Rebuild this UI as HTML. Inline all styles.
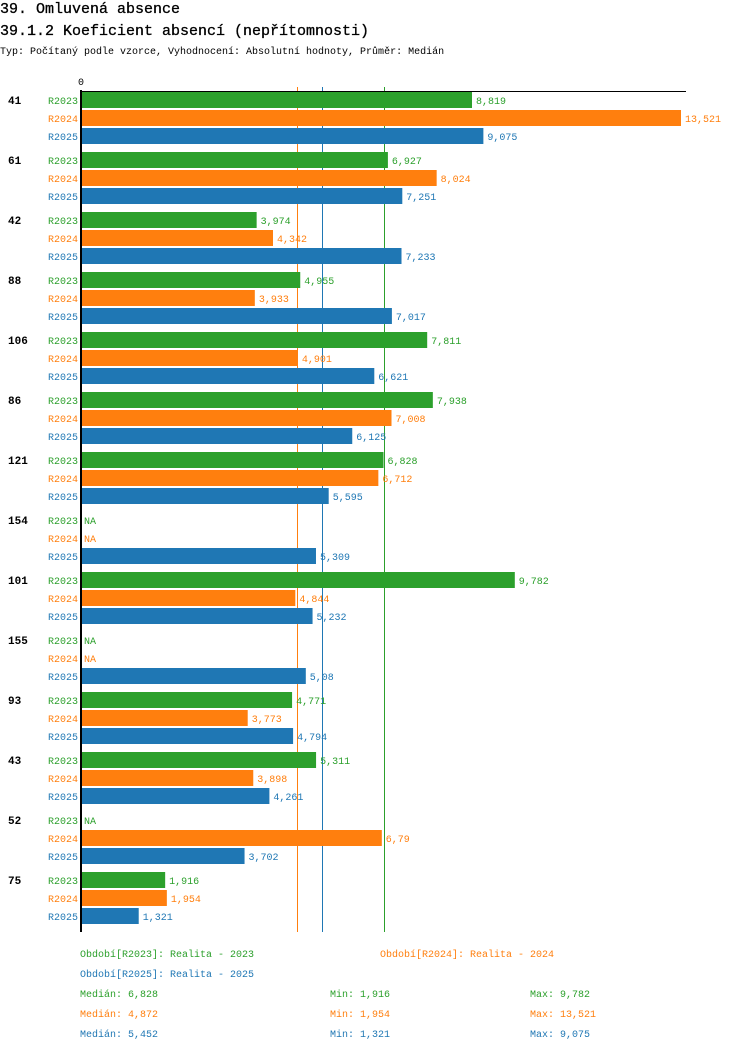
<!DOCTYPE html>
<html><head><meta charset="utf-8"><style>
body{margin:0;background:#fff;width:750px;height:1052px;overflow:hidden}
svg text{font-family:"Liberation Mono","DejaVu Sans Mono",monospace}
</style></head><body>
<svg id="chart" width="750" height="1052" xmlns="http://www.w3.org/2000/svg">
<text x="0" y="13" font-size="15" fill="#000" stroke="#000" stroke-width="0.3">39. Omluvená absence</text>
<text x="0" y="35" font-size="15" fill="#000" stroke="#000" stroke-width="0.3">39.1.2 Koeficient absencí (nepřítomnosti)</text>
<text x="0" y="54" font-size="10" fill="#000">Typ: Počítaný podle vzorce, Vyhodnocení: Absolutní hodnoty, Průměr: Medián</text>
<g id="plot"></g>
<g id="legend"></g>
</svg>
<script>
const categories=["41","61","42","88","106","86","121","154","101","155","93","43","52","75"];
const seriesNames=["R2023","R2024","R2025"];
const r2023=[8.819,6.927,3.974,4.955,7.811,7.938,6.828,null,9.782,null,4.771,5.311,null,1.916];
const r2024=[13.521,8.024,4.342,3.933,4.901,7.008,6.712,null,4.844,null,3.773,3.898,6.79,1.954];
const r2025=[9.075,7.251,7.233,7.017,6.621,6.125,5.595,5.309,5.232,5.08,4.794,4.261,3.702,1.321];
const medians=[6.828,4.872,5.452];
const mins=[1.916,1.954,1.321];
const maxs=[9.782,13.521,9.075];
const legendLabels=["Období[R2023]: Realita - 2023","Období[R2024]: Realita - 2024","Období[R2025]: Realita - 2025"];
const colors=["#2ca02c","#ff7f0e","#1f77b4"];
const series=[r2023,r2024,r2025];
const NS="http://www.w3.org/2000/svg";
const x0=80, scale=601/13.521;
const xs=v=>x0+v*scale;
const yTop=(g,s)=>92+g*60+s*18;
const plot=document.getElementById('plot');
function mk(tag,attrs,parent){const e=document.createElementNS(NS,tag);for(const k in attrs)e.setAttribute(k,attrs[k]);(parent||plot).appendChild(e);return e;}
const fmt=v=>String(v).replace('.',',');
// median lines (behind bars)
[1,2,0].forEach(s=>{
  const l=mk('line',{x1:Math.round(xs(medians[s]))+0.5,x2:Math.round(xs(medians[s]))+0.5,y1:87,y2:932,stroke:colors[s],'stroke-width':1});
  
  
});
// bars
categories.forEach((c,g)=>{
  const gl=mk('text',{x:8,y:yTop(g,0)+12,'font-size':11,'font-weight':'bold',fill:'#000'});
  gl.textContent=c;
  
  
  series.forEach((arr,s)=>{
    const y=yTop(g,s);
    const rl=mk('text',{x:78,y:y+12,'font-size':10,fill:colors[s],'text-anchor':'end'});
    rl.textContent=seriesNames[s];
    
    
    const v=arr[g];
    let tx=84;
    if(v!==null){
      const b=mk('rect',{x:82,y:y,width:Math.max(0,xs(v)-82),height:16,fill:colors[s]});
      
      
      tx=xs(v)+4;
    }
    const vl=mk('text',{x:tx,y:y+12,'font-size':10,fill:colors[s]});
    vl.textContent=v===null?'NA':fmt(v);
    
    
  });
});
// axes
const ax=mk('line',{x1:81,x2:81,y1:90,y2:932,stroke:'#000','stroke-width':2});


const tx=mk('line',{x1:80,x2:686,y1:91.5,y2:91.5,stroke:'#000','stroke-width':1});


const z=mk('text',{x:78,y:85,'font-size':10,fill:'#000'});
z.textContent='0';


// legend
const lg=document.getElementById('legend');
const lp=[[80,957],[380,957],[80,977]];
legendLabels.forEach((t,i)=>{
  const e=mk('text',{x:lp[i][0],y:lp[i][1],'font-size':10,fill:colors[i]},lg);
  e.textContent=t;
  
  
});
seriesNames.forEach((n,i)=>{
  const y=997+i*20;
  const a=mk('text',{x:80,y:y,'font-size':10,fill:colors[i]},lg);
  a.textContent='Medián: '+fmt(medians[i]);
  
  
  const b=mk('text',{x:330,y:y,'font-size':10,fill:colors[i]},lg);
  b.textContent='Min: '+fmt(mins[i]);
  
  
  const c=mk('text',{x:530,y:y,'font-size':10,fill:colors[i]},lg);
  c.textContent='Max: '+fmt(maxs[i]);
  
  
});
</script>
</body></html>
